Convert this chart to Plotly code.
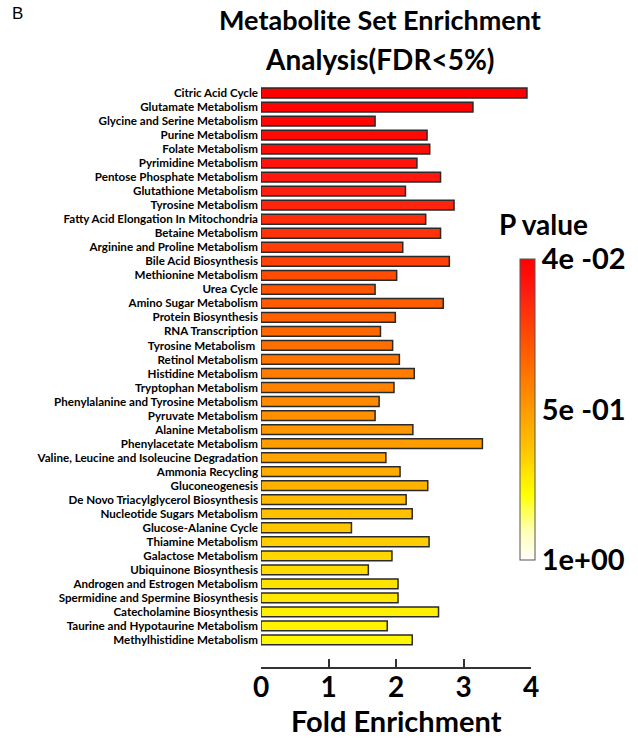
import plotly.graph_objects as go

pathways = [
    "Citric Acid Cycle", "Glutamate Metabolism", "Glycine and Serine Metabolism",
    "Purine Metabolism", "Folate Metabolism", "Pyrimidine Metabolism",
    "Pentose Phosphate Metabolism", "Glutathione Metabolism", "Tyrosine Metabolism",
    "Fatty Acid Elongation In Mitochondria", "Betaine Metabolism",
    "Arginine and Proline Metabolism", "Bile Acid Biosynthesis", "Methionine Metabolism",
    "Urea Cycle", "Amino Sugar Metabolism", "Protein Biosynthesis", "RNA Transcription",
    "Tyrosine Metabolism ", "Retinol Metabolism", "Histidine Metabolism",
    "Tryptophan Metabolism", "Phenylalanine and Tyrosine Metabolism", "Pyruvate Metabolism",
    "Alanine Metabolism", "Phenylacetate Metabolism",
    "Valine, Leucine and Isoleucine Degradation", "Ammonia Recycling", "Gluconeogenesis",
    "De Novo Triacylglycerol Biosynthesis", "Nucleotide Sugars Metabolism",
    "Glucose-Alanine Cycle", "Thiamine Metabolism", "Galactose Metabolism",
    "Ubiquinone Biosynthesis", "Androgen and Estrogen Metabolism",
    "Spermidine and Spermine Biosynthesis", "Catecholamine Biosynthesis",
    "Taurine and Hypotaurine Metabolism", "Methylhistidine Metabolism",
]

fold_enrichment = [
    3.94, 3.14, 1.69, 2.46, 2.50, 2.31, 2.66, 2.14, 2.86, 2.44,
    2.66, 2.10, 2.79, 2.01, 1.69, 2.70, 1.99, 1.77, 1.95, 2.05,
    2.27, 1.97, 1.75, 1.69, 2.25, 3.28, 1.85, 2.06, 2.47, 2.15,
    2.24, 1.34, 2.49, 1.94, 1.59, 2.03, 2.03, 2.63, 1.87, 2.24,
]

p_values = [
    0.040, 0.048, 0.060, 0.075, 0.090, 0.110, 0.130, 0.150, 0.170, 0.190,
    0.210, 0.240, 0.260, 0.290, 0.310, 0.330, 0.350, 0.370, 0.390, 0.410,
    0.430, 0.450, 0.470, 0.490, 0.510, 0.530, 0.550, 0.570, 0.590, 0.610,
    0.630, 0.650, 0.670, 0.690, 0.700, 0.720, 0.730, 0.750, 0.760, 0.770,
]

x_ticks = [0, 1, 2, 3, 4]
cbar_tickvals = [0.04, 0.52, 1.0]
cbar_ticktext = ["4e -02", "5e -01", "1e+00"]

FONT = "Lato"
W, H = 638, 738
L, R, T, B = 261, 107, 86, 71
PW, PH = W - L - R, H - T - B


def px(xp):
    return (xp - L) / PW


def py(yp):
    return (H - B - yp) / PH


colorscale = [
    [0.0, "#FFFFFF"],
    [0.10, "#FFFFB0"],
    [0.22, "#FFFF00"],
    [0.36, "#FFC800"],
    [0.50, "#FF9A00"],
    [0.70, "#FF5A00"],
    [0.90, "#FF1A10"],
    [1.0, "#FF0000"],
]

fig = go.Figure()
fig.add_trace(go.Bar(
    x=fold_enrichment,
    y=pathways,
    orientation="h",
    marker=dict(
        color=[-p for p in p_values],
        colorscale=colorscale,
        cmin=-1.0,
        cmax=-0.04,
        line=dict(color="#2a2a2a", width=1.5),
        colorbar=dict(
            x=px(520), xanchor="left", xpad=0,
            y=py(409.5), yanchor="middle",
            len=301, lenmode="pixels",
            thickness=15, thicknessmode="pixels",
            outlinecolor="#555555", outlinewidth=1,
            tickvals=[-v for v in cbar_tickvals],
            ticktext=cbar_ticktext,
            ticks="",
            tickfont=dict(family=FONT, size=29, color="black", weight="bold"),
            ypad=0,
        ),
    ),
    showlegend=False,
))

fig.update_layout(
    width=W, height=H,
    margin=dict(l=L, r=R, t=T, b=B, autoexpand=False),
    paper_bgcolor="white", plot_bgcolor="white",
    bargap=0.3,
    xaxis=dict(
        range=[0, 4],
        tickvals=x_ticks,
        ticks="inside", ticklen=8, tickwidth=1.5, tickcolor="#333333",
        showline=True, linecolor="#333333", linewidth=1.5,
        showgrid=False, zeroline=False,
        ticklabelstandoff=-5,
        tickfont=dict(family=FONT, size=28, color="black", weight="bold"),
        automargin=False,
        fixedrange=True,
    ),
    yaxis=dict(
        type="category",
        categoryorder="array", categoryarray=pathways,
        tickmode="array", tickvals=pathways, ticktext=pathways,
        range=[40.93, -0.5],
        showline=False, showgrid=False, zeroline=False,
        ticks="", ticklabelstandoff=2,
        tickfont=dict(family=FONT, size=11.6, color="black", weight="bold"),
        automargin=False,
        fixedrange=True,
    ),
    annotations=[
        dict(text="B", xref="paper", yref="paper",
             x=px(10), y=py(13), xanchor="left", yanchor="middle",
             showarrow=False, font=dict(family="Liberation Sans", size=17, color="black")),
        dict(text="Metabolite Set Enrichment", xref="paper", yref="paper",
             x=px(380), y=py(20), xanchor="center", yanchor="middle",
             showarrow=False, font=dict(family=FONT, size=27, color="black", weight="bold")),
        dict(text="Analysis(FDR<5%)", xref="paper", yref="paper",
             x=px(380), y=py(59), xanchor="center", yanchor="middle",
             showarrow=False, font=dict(family=FONT, size=28, color="black", weight="bold")),
        dict(text="P value", xref="paper", yref="paper",
             x=px(543), y=py(224), xanchor="center", yanchor="middle",
             showarrow=False, font=dict(family=FONT, size=28, color="black", weight="bold")),
        dict(text="Fold Enrichment", xref="paper", yref="paper",
             x=px(396), y=py(720.5), xanchor="center", yanchor="middle",
             showarrow=False, font=dict(family=FONT, size=29, color="black", weight="bold")),
    ],
)

fig.write_html(
    "out.html",
    config={"displayModeBar": False},
    post_script="document.body.style.margin='0';document.documentElement.style.margin='0';",
)
